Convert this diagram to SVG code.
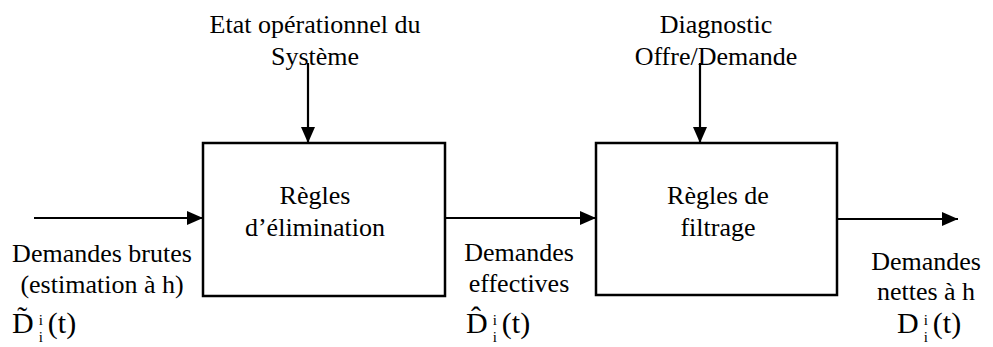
<svg xmlns="http://www.w3.org/2000/svg" width="993" height="347" viewBox="0 0 993 347">
<defs>
<marker id="ah" markerWidth="16" markerHeight="14" refX="16" refY="7" orient="auto" markerUnits="userSpaceOnUse">
<path d="M0,0 L16,7 L0,14 Z" fill="#000"/>
</marker>
<style>
text{font-family:'Liberation Serif','DejaVu Serif','Times New Roman',serif}
.c{text-anchor:middle}
.box{fill:#fff;stroke:#000;stroke-width:2.5}
.ln{stroke:#000;stroke-width:2.2;fill:none}
.big{font-size:30px}
.sm{font-size:15px}
</style>
</defs>
<rect width="993" height="347" fill="#fff"/>
<g id="connectors">
<line class="ln" x1="34" y1="218" x2="203" y2="218" marker-end="url(#ah)"/>
<line class="ln" x1="445" y1="218" x2="596" y2="218" marker-end="url(#ah)"/>
<line class="ln" x1="837" y1="219" x2="958" y2="219" marker-end="url(#ah)"/>
<line class="ln" x1="308" y1="63" x2="308" y2="143" marker-end="url(#ah)"/>
<line class="ln" x1="700" y1="63" x2="700" y2="143" marker-end="url(#ah)"/>
</g>
<g font-family="'Liberation Serif','DejaVu Serif',serif" font-size="26" fill="#000">
<g id="node-elimination">
<rect class="box" x="203" y="143" width="242" height="153"/>
<text class="c" x="315" y="204">Règles</text>
<text class="c" x="315" y="236">d’élimination</text>
</g>
<g id="node-filtrage">
<rect class="box" x="596" y="143" width="241" height="152"/>
<text class="c" x="718" y="204">Règles de</text>
<text class="c" x="718" y="236">filtrage</text>
</g>
<g id="label-etat">
<text class="c" x="315" y="33">Etat opérationnel du</text>
<text class="c" x="315" y="65">Système</text>
</g>
<g id="label-diagnostic">
<text class="c" x="716" y="33">Diagnostic</text>
<text class="c" x="716" y="65">Offre/Demande</text>
</g>
<g id="label-brutes">
<text class="c" x="102" y="262">Demandes brutes</text>
<text class="c" x="102" y="293">(estimation à h)</text>
<text class="big" x="12" y="333">D̃<tspan class="sm" dx="5" dy="-8">i</tspan><tspan class="sm" dx="-4.2" dy="17">i</tspan><tspan dx="5" dy="-9">(t)</tspan></text>
</g>
<g id="label-effectives">
<text class="c" x="519" y="261">Demandes</text>
<text class="c" x="519" y="292">effectives</text>
<text class="big" x="466" y="333">D̂<tspan class="sm" dx="5" dy="-8">i</tspan><tspan class="sm" dx="-4.2" dy="17">i</tspan><tspan dx="5" dy="-9">(t)</tspan></text>
</g>
<g id="label-nettes">
<text class="c" x="926" y="270">Demandes</text>
<text class="c" x="926" y="300">nettes à h</text>
<text class="big" x="897" y="333">D<tspan class="sm" dx="5" dy="-8">i</tspan><tspan class="sm" dx="-4.2" dy="17">i</tspan><tspan dx="5" dy="-9">(t)</tspan></text>
</g>
</g>
</svg>
